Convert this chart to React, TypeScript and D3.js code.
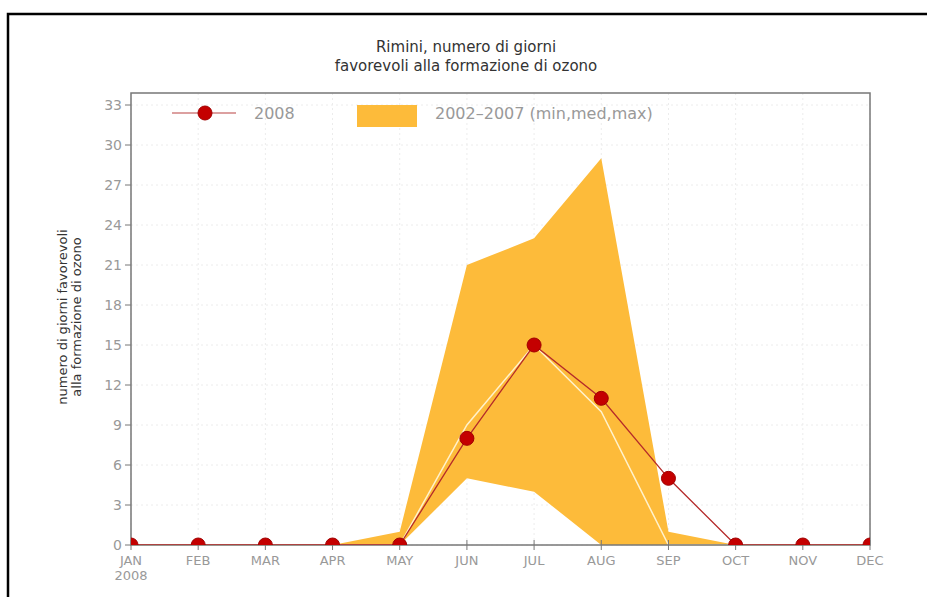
import React from "react";
import * as d3 from "d3";

const months = ["JAN", "FEB", "MAR", "APR", "MAY", "JUN", "JUL", "AUG", "SEP", "OCT", "NOV", "DEC"];
const values2008 = [0, 0, 0, 0, 0, 8, 15, 11, 5, 0, 0, 0];
const bandMin = [0, 0, 0, 0, 0, 5, 4, 0, 0, 0, 0, 0];
const bandMed = [0, 0, 0, 0, 0, 9, 15, 10, 0, 0, 0, 0];
const bandMax = [0, 0, 0, 0, 1, 21, 23, 29, 1, 0, 0, 0];
const yTicks = [0, 3, 6, 9, 12, 15, 18, 21, 24, 27, 30, 33];

const W = 927;
const H = 597;
const L = 131, R = 870, T = 93, B = 545;
const font = "'DejaVu Sans', sans-serif";

export default function App() {
  const x = d3.scaleLinear().domain([0, 11]).range([L, R]);
  const y = d3.scaleLinear().domain([0, 33]).range([B, B - 440]);
  const idx = months.map((_, i) => i);

  const area = d3.area<number>().x((i) => x(i)).y0((i) => y(bandMin[i])).y1((i) => y(bandMax[i]))(idx) || "";
  const medLine = d3.line<number>().x((i) => x(i)).y((i) => y(bandMed[i]))(idx) || "";
  const line08 = d3.line<number>().x((i) => x(i)).y((i) => y(values2008[i]))(idx) || "";

  return (
    <svg width={W} height={H} style={{ position: "absolute", left: 0, top: 0, background: "#fff" }}>
      <defs>
        <clipPath id="plotclip">
          <rect x={L} y={T} width={R - L} height={B - T} />
        </clipPath>
      </defs>
      <rect x={0} y={0} width={W} height={H} fill="#fff" />
      {/* outer border */}
      <rect x={8} y={14} width={W + 20} height={H + 20} fill="none" stroke="#000" strokeWidth={2.5} />

      {/* title */}
      <text x={466} y={52} textAnchor="middle" fontFamily={font} fontSize={15} fill="#333">Rimini, numero di giorni</text>
      <text x={466} y={71} textAnchor="middle" fontFamily={font} fontSize={15} fill="#333">favorevoli alla formazione di ozono</text>

      {/* grid */}
      {yTicks.map((t) => (
        <line key={"gy" + t} x1={L} x2={R} y1={y(t)} y2={y(t)} stroke="#ececec" strokeWidth={1} strokeDasharray="2,3" />
      ))}
      {idx.map((i) => (
        <line key={"gx" + i} x1={x(i)} x2={x(i)} y1={T} y2={B} stroke="#ececec" strokeWidth={1} strokeDasharray="2,3" />
      ))}

      {/* band */}
      <path d={area} fill="#FDBB3A" stroke="none" />
      <path d={medLine} fill="none" stroke="#FFF2CC" strokeWidth={1.5} />

      {/* frame */}
      <rect x={L} y={T} width={R - L} height={B - T} fill="none" stroke="#777" strokeWidth={1.5} />

      {/* y ticks */}
      {yTicks.map((t) => (
        <g key={"yt" + t}>
          <line x1={L - 6} x2={L} y1={y(t)} y2={y(t)} stroke="#777" strokeWidth={1} />
          <text x={L - 9} y={y(t) + 5} textAnchor="end" fontFamily={font} fontSize={14} fill="#999">{t}</text>
        </g>
      ))}
      {/* x ticks */}
      {idx.map((i) => (
        <g key={"xt" + i}>
          <line x1={x(i)} x2={x(i)} y1={B - 5} y2={B + 5} stroke="#777" strokeWidth={1} />
          <text x={x(i)} y={B + 20} textAnchor="middle" fontFamily={font} fontSize={13} fill="#999">{months[i]}</text>
        </g>
      ))}
      <text x={x(0)} y={B + 35} textAnchor="middle" fontFamily={font} fontSize={13} fill="#999">2008</text>

      {/* y label */}
      <g transform={`translate(67, 317) rotate(-90)`}>
        <text x={0} y={0} textAnchor="middle" fontFamily={font} fontSize={13} fill="#333">numero di giorni favorevoli</text>
        <text x={0} y={14} textAnchor="middle" fontFamily={font} fontSize={13} fill="#333">alla formazione di ozono</text>
      </g>

      {/* 2008 series */}
      <g clipPath="url(#plotclip)">
        <path d={line08} fill="none" stroke="#B52A2A" strokeWidth={1.3} />
        {idx.map((i) => (
          <circle key={"p" + i} cx={x(i)} cy={y(values2008[i])} r={7} fill="#C40000" stroke="#A00000" strokeWidth={1} />
        ))}
      </g>

      {/* legend */}
      <line x1={172} x2={236} y1={113} y2={113} stroke="#D08080" strokeWidth={1.5} />
      <circle cx={205} cy={113} r={7} fill="#C40000" stroke="#A00000" strokeWidth={1} />
      <text x={254} y={119} fontFamily={font} fontSize={16} fill="#999">2008</text>
      <rect x={357} y={105} width={60} height={22} fill="#FDBB3A" />
      <text x={435} y={119} fontFamily={font} fontSize={16} fill="#999">2002–2007 (min,med,max)</text>
    </svg>
  );
}
